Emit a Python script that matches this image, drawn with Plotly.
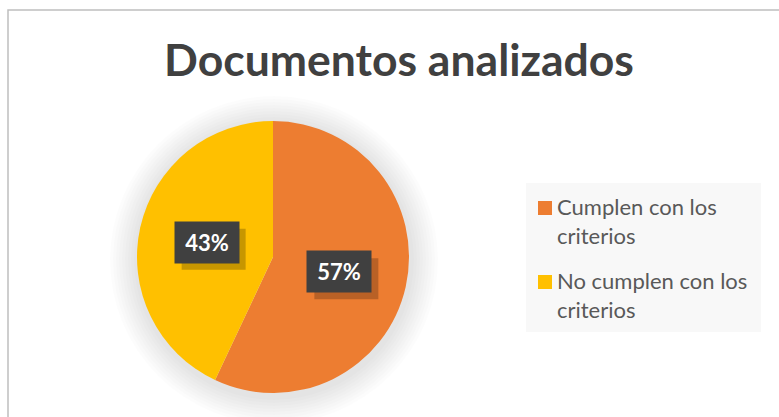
import math
import plotly.graph_objects as go

# ---- data ----
labels = ["Cumplen con los criterios", "No cumplen con los criterios"]
legend_text = ["Cumplen con los<br>criterios", "No cumplen con los<br>criterios"]
values = [57, 43]
colors = ["#ED7D31", "#FFC000"]
title_text = "Documentos analizados"

W, H = 779, 417
def px(x):
    return x / W
def py(y):
    return 1 - y / H

# pie geometry (pixels)
pie_left, pie_right, pie_top, pie_bottom = 137, 409, 121, 393
cx = (pie_left + pie_right) / 2
cy = (pie_top + pie_bottom) / 2
R = (pie_right - pie_left) / 2

FONT = "Lato"

fig = go.Figure()
fig.add_trace(go.Pie(
    labels=labels,
    values=values,
    marker=dict(colors=colors, line=dict(width=0)),
    sort=False,
    direction="clockwise",
    rotation=0,
    textinfo="none",
    hoverinfo="label+percent",
    showlegend=False,
    domain=dict(x=[px(pie_left), px(pie_right)], y=[py(pie_bottom), py(pie_top)]),
))

shapes = []
# outer border
shapes.append(dict(type="rect", xref="paper", yref="paper",
                   x0=px(8), x1=px(782), y0=py(425), y1=py(10),
                   line=dict(color="#BFBFBF", width=1.5), fillcolor="rgba(0,0,0,0)", layer="below"))
# soft glow behind the pie
for k in range(9):
    rr = R + 28 - k * 3
    shapes.append(dict(type="circle", xref="paper", yref="paper",
                       x0=px(cx - rr + 1), x1=px(cx + rr + 1),
                       y0=py(cy + rr + 3), y1=py(cy - rr + 3),
                       line=dict(width=0), fillcolor="rgba(0,0,0,0.013)", layer="below"))
# legend background
shapes.append(dict(type="rect", xref="paper", yref="paper",
                   x0=px(526), x1=px(761), y0=py(332), y1=py(183),
                   line=dict(width=0), fillcolor="#F8F8F8", layer="below"))

annotations = []
# data labels placed at half radius along each slice's mid angle
BW, BH = 64, 41
total = sum(values)
cum = 0
for v in values:
    mid = (cum + v / 2) / total * 2 * math.pi
    cum += v
    lx = cx + 0.5 * R * math.sin(mid)
    ly = cy - 0.5 * R * math.cos(mid)
    pct = round(v / total * 100)
    # shadow of the label box
    shapes.append(dict(type="rect", xref="paper", yref="paper",
                       x0=px(lx - BW / 2 + 7), x1=px(lx + BW / 2 + 7),
                       y0=py(ly + BH / 2 + 7), y1=py(ly - BH / 2 + 7),
                       line=dict(width=0), fillcolor="rgba(0,0,0,0.22)", layer="above"))
    annotations.append(dict(x=px(lx), y=py(ly), xref="paper", yref="paper",
                            xanchor="center", yanchor="middle",
                            text=f"<b>{pct}%</b>", showarrow=False,
                            font=dict(family=FONT, size=22, color="white"),
                            bgcolor="#404040", width=BW - 12, height=BH - 12, borderpad=6))

# legend entries
for i, (t, c) in enumerate(zip(legend_text, colors)):
    top = 201 + i * 74
    shapes.append(dict(type="rect", xref="paper", yref="paper",
                       x0=px(538), x1=px(552), y0=py(top + 14), y1=py(top),
                       line=dict(width=0), fillcolor=c))
    annotations.append(dict(x=px(555), y=py(221 + i * 74), xref="paper", yref="paper",
                            text=t, showarrow=False, xanchor="left", yanchor="middle", align="left",
                            font=dict(family=FONT, size=22, color="#595959")))

fig.update_layout(
    width=W, height=H,
    margin=dict(l=0, r=0, t=0, b=0),
    paper_bgcolor="white",
    plot_bgcolor="white",
    title=dict(text=f"<b>{title_text}</b>", x=px(399), xanchor="center",
               y=py(60), yanchor="middle", xref="paper", yref="paper",
               font=dict(family=FONT, size=44.5, color="#404040")),
    shapes=shapes,
    annotations=annotations,
)

fig.write_html("out.html", config={"displayModeBar": False},
               post_script="document.body.style.margin='0';document.body.style.overflow='hidden';")
